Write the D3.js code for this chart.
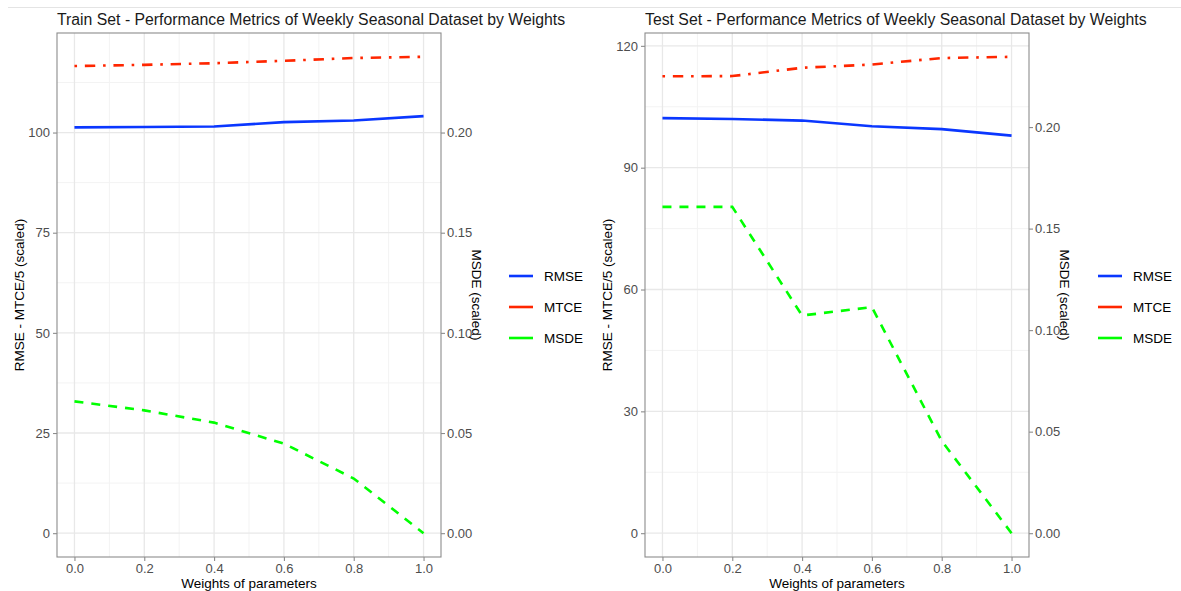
<!DOCTYPE html>
<html>
<head>
<meta charset="utf-8">
<script src="https://cdn.jsdelivr.net/npm/d3@7"></script>
<style>
  body { margin: 0; background: #fff; }
  svg { font-family: "Liberation Sans", Arial, sans-serif; display: block; }
</style>
</head>
<body>
<div id="chart"></div>
<script>
// weights on the x axis
const weights = [0, 0.2, 0.4, 0.6, 0.8, 1.0];
const xTicks = [0, 0.2, 0.4, 0.6, 0.8, 1.0];
const xMinorTicks = [0.1, 0.3, 0.5, 0.7, 0.9];

// train set metrics (MTCE raw, plotted as MTCE/5; MSDE raw, plotted *500)
const trainRMSE = [101.3, 101.4, 101.5, 102.6, 103.0, 104.1];
const trainMTCE = [583.0, 584.5, 586.5, 589.5, 593.0, 594.5];
const trainMSDE = [0.0658, 0.0613, 0.0552, 0.0447, 0.0273, 0.0];

// test set metrics
const testRMSE = [102.2, 102.0, 101.6, 100.2, 99.5, 97.9];
const testMTCE = [562.5, 562.8, 573.0, 577.0, 585.0, 586.5];
const testMSDE = [0.1607, 0.1607, 0.1072, 0.1113, 0.0454, 0.0];

const trainYTicks = [0, 25, 50, 75, 100];
const testYTicks = [0, 30, 60, 90, 120];
const msdeTicks = [0, 0.05, 0.10, 0.15, 0.20];

const metricNames = ["RMSE", "MTCE", "MSDE"];
const metricColors = ["#0a37ff", "#ff2600", "#00ff00"];
const metricDash = [null, "2.6,7.8,10.4,7.8", "9,8"];

const mtceDivisor = 5;
const msdeFactor = 500;

const width = 1181, height = 591;
const plotTop = 33, plotBottom = 557;

const svg = d3.select("#chart").append("svg")
    .attr("width", width)
    .attr("height", height);

// faint header line at the very top
svg.append("line")
    .attr("x1", 8).attr("x2", width)
    .attr("y1", 7.5).attr("y2", 7.5)
    .attr("stroke", "#e4e4e4")
    .attr("stroke-width", 1);

function drawPanel(p) {
    const series = [
        p.rmse,
        p.mtce.map(v => v / mtceDivisor),
        p.msde.map(v => v * msdeFactor)
    ];

    const all = series.flat();
    const lo = d3.min(all), hi = d3.max(all);
    const pad = (hi - lo) * 0.05;

    const x = d3.scaleLinear().domain([-0.05, 1.05]).range([p.left, p.right]);
    const y = d3.scaleLinear().domain([lo - pad, hi + pad]).range([plotBottom, plotTop]);
    const y2 = d3.scaleLinear().domain(y.domain().map(v => v / msdeFactor)).range([plotBottom, plotTop]);

    const g = svg.append("g");

    // minor y grid
    const step = p.yTicks[1] - p.yTicks[0];
    const yMinor = [];
    for (let v = p.yTicks[0] - step / 2; v <= y.domain()[1]; v += step) {
        if (v >= y.domain()[0]) yMinor.push(v);
    }

    g.selectAll(".ymin").data(yMinor).enter().append("line")
        .attr("x1", p.left).attr("x2", p.right)
        .attr("y1", d => y(d)).attr("y2", d => y(d))
        .attr("stroke", "#f3f3f3").attr("stroke-width", 1);

    g.selectAll(".xmin").data(xMinorTicks).enter().append("line")
        .attr("x1", d => x(d)).attr("x2", d => x(d))
        .attr("y1", plotTop).attr("y2", plotBottom)
        .attr("stroke", "#f3f3f3").attr("stroke-width", 1);

    g.selectAll(".ymaj").data(p.yTicks).enter().append("line")
        .attr("x1", p.left).attr("x2", p.right)
        .attr("y1", d => y(d)).attr("y2", d => y(d))
        .attr("stroke", "#e8e8e8").attr("stroke-width", 1.3);

    g.selectAll(".xmaj").data(xTicks).enter().append("line")
        .attr("x1", d => x(d)).attr("x2", d => x(d))
        .attr("y1", plotTop).attr("y2", plotBottom)
        .attr("stroke", "#e8e8e8").attr("stroke-width", 1.3);

    // metric lines
    const line = d3.line()
        .x((d, i) => x(weights[i]))
        .y(d => y(d));

    series.forEach((s, i) => {
        g.append("path")
            .datum(s)
            .attr("d", line)
            .attr("fill", "none")
            .attr("stroke", metricColors[i])
            .attr("stroke-width", 2.6)
            .attr("stroke-dasharray", metricDash[i]);
    });

    // panel border
    g.append("rect")
        .attr("x", p.left).attr("y", plotTop)
        .attr("width", p.right - p.left).attr("height", plotBottom - plotTop)
        .attr("fill", "none")
        .attr("stroke", "#8c8c8c")
        .attr("stroke-width", 1.1);

    // axes
    const leftAxis = d3.axisLeft(y).tickValues(p.yTicks).tickSize(4).tickPadding(3);
    const rightAxis = d3.axisRight(y2).tickValues(msdeTicks).tickSize(4).tickPadding(2)
        .tickFormat(d3.format(".2f"));
    const bottomAxis = d3.axisBottom(x).tickValues(xTicks).tickSize(4).tickPadding(3)
        .tickFormat(d3.format(".1f"));

    const axes = [
        g.append("g").attr("transform", `translate(${p.left},0)`).call(leftAxis),
        g.append("g").attr("transform", `translate(${p.right},0)`).call(rightAxis),
        g.append("g").attr("transform", `translate(0,${plotBottom})`).call(bottomAxis)
    ];
    axes.forEach(a => {
        a.select(".domain").remove();
        a.selectAll(".tick line").attr("stroke", "#8c8c8c").attr("stroke-width", 1.1);
        a.selectAll(".tick text")
            .attr("fill", "#4d4d4d")
            .style("font-size", "13px")
            .style("font-family", "Liberation Sans, Arial, sans-serif");
    });

    // title
    svg.append("text")
        .attr("x", p.left)
        .attr("y", 25)
        .style("font-size", "15.8px")
        .attr("fill", "#1a1a1a")
        .text(p.title);

    // axis titles
    svg.append("text")
        .attr("x", (p.left + p.right) / 2)
        .attr("y", 588)
        .attr("text-anchor", "middle")
        .style("font-size", "13.5px")
        .attr("fill", "#000")
        .text("Weights of parameters");

    svg.append("text")
        .attr("transform", `translate(${p.left - 38},${(plotTop + plotBottom) / 2}) rotate(-90)`)
        .attr("text-anchor", "middle")
        .attr("dy", "0.35em")
        .style("font-size", "13.5px")
        .attr("fill", "#000")
        .text("RMSE - MTCE/5 (scaled)");

    svg.append("text")
        .attr("transform", `translate(${p.right + 36},${(plotTop + plotBottom) / 2}) rotate(90)`)
        .attr("text-anchor", "middle")
        .attr("dy", "0.35em")
        .style("font-size", "13.5px")
        .attr("fill", "#000")
        .text("MSDE (scaled)");

    // legend
    const legend = svg.append("g")
        .attr("transform", `translate(${p.legendX},0)`);
    metricNames.forEach((name, i) => {
        const ly = 276 + i * 31;
        legend.append("line")
            .attr("x1", 0).attr("x2", 24)
            .attr("y1", ly).attr("y2", ly)
            .attr("stroke", metricColors[i])
            .attr("stroke-width", 2.6);
        legend.append("text")
            .attr("x", 35)
            .attr("y", ly)
            .attr("dy", "0.35em")
            .style("font-size", "13.5px")
            .attr("fill", "#000")
            .text(name);
    });
}

drawPanel({
    title: "Train Set - Performance Metrics of Weekly Seasonal Dataset by Weights",
    left: 57, right: 441,
    rmse: trainRMSE, mtce: trainMTCE, msde: trainMSDE,
    yTicks: trainYTicks,
    legendX: 509
});

drawPanel({
    title: "Test Set - Performance Metrics of Weekly Seasonal Dataset by Weights",
    left: 645, right: 1029,
    rmse: testRMSE, mtce: testMTCE, msde: testMSDE,
    yTicks: testYTicks,
    legendX: 1098
});
</script>
</body>
</html>
